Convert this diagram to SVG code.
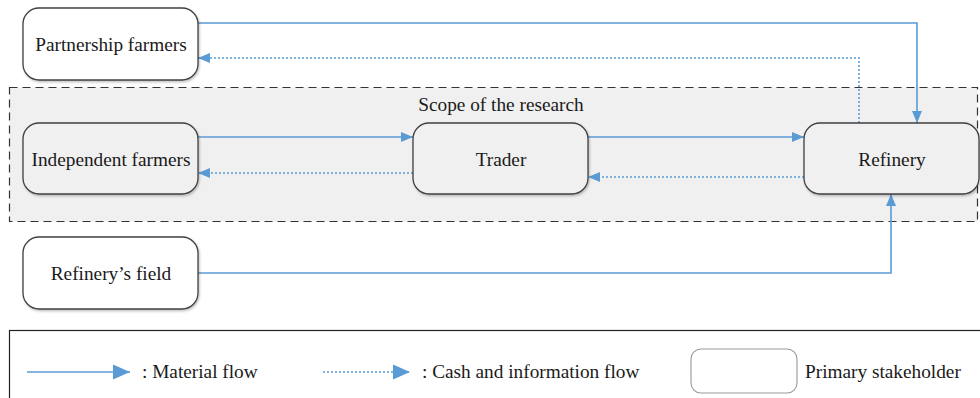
<svg xmlns="http://www.w3.org/2000/svg" width="980" height="398" viewBox="0 0 980 398">
<style>
.node rect{fill:#ffffff;stroke:#404040;stroke-width:1.3;filter:url(#sh)}
.scope .node rect{fill:#f0f0f0}
text{font-family:"Liberation Serif","Times New Roman",serif;font-size:19.3px;fill:#1a1a1a;text-anchor:middle}
.solid{fill:none;stroke:#5b9bd5;stroke-width:1.6}
.dot{fill:none;stroke:#5b9bd5;stroke-width:1.6;stroke-dasharray:2 2}
</style>
<defs>
<filter id="sh" x="-10%" y="-10%" width="125%" height="130%">
<feDropShadow dx="1" dy="1.5" stdDeviation="1.2" flood-color="#000" flood-opacity="0.25"/>
</filter>
<marker id="ah" markerUnits="userSpaceOnUse" markerWidth="12" markerHeight="12" viewBox="0 0 12 12" refX="12" refY="6" orient="auto">
<path d="M0,1 L12,6 L0,11 Z" fill="#5b9bd5"/>
</marker>
<marker id="ahL" markerUnits="userSpaceOnUse" markerWidth="17" markerHeight="17" viewBox="0 0 17 17" refX="17" refY="8.5" orient="auto">
<path d="M0,1 L17,8.5 L0,16 Z" fill="#5b9bd5"/>
</marker>
</defs>
<rect width="980" height="398" fill="#ffffff"/>

<g id="scope">
<rect x="9.5" y="87.5" width="968" height="134" fill="#f0f0f0" stroke="#333" stroke-width="1.2" stroke-dasharray="8 5"/>
<text x="501" y="111">Scope of the research</text>
</g>

<g id="connectors">
<path class="solid" d="M198,23 H917 V123" marker-end="url(#ah)"/>
<path class="dot" d="M859,123 V58 H198" marker-end="url(#ah)"/>
<path class="solid" d="M198,137 H413" marker-end="url(#ah)"/>
<path class="dot" d="M413,173 H198" marker-end="url(#ah)"/>
<path class="solid" d="M588,137 H804" marker-end="url(#ah)"/>
<path class="dot" d="M804,177 H588" marker-end="url(#ah)"/>
<path class="solid" d="M198,273 H891 V194" marker-end="url(#ah)"/>
</g>

<g id="partnership" class="node">
<rect x="23" y="8" width="175" height="72" rx="16"/>
<text x="111" y="51">Partnership farmers</text>
</g>
<g class="scope">
<g id="independent" class="node">
<rect x="23" y="123" width="175" height="71" rx="16"/>
<text x="111" y="165.5">Independent farmers</text>
</g>
<g id="trader" class="node">
<rect x="413" y="123" width="175" height="71" rx="16"/>
<text x="501" y="165.5">Trader</text>
</g>
<g id="refinery" class="node">
<rect x="804" y="123" width="175" height="71" rx="16"/>
<text x="892" y="165.5">Refinery</text>
</g>
</g>
<g id="field" class="node">
<rect x="23" y="237" width="175" height="72" rx="16"/>
<text x="111" y="279.5">Refinery’s field</text>
</g>

<g id="legend">
<rect x="9.5" y="330.5" width="975" height="80" fill="#ffffff" stroke="#222" stroke-width="1.2"/>
<path class="solid" d="M27,372 H130" marker-end="url(#ahL)" stroke-width="2"/>
<text x="142" y="378" style="text-anchor:start">: Material flow</text>
<path class="dot" d="M323,372 H410" marker-end="url(#ahL)" stroke-width="2"/>
<text x="422" y="378" style="text-anchor:start">: Cash and information flow</text>
<rect x="691" y="349" width="106" height="44" rx="10" fill="#fff" stroke="#999" stroke-width="1.1"/>
<text x="805" y="378" style="text-anchor:start">Primary stakeholder</text>
</g>
</svg>
